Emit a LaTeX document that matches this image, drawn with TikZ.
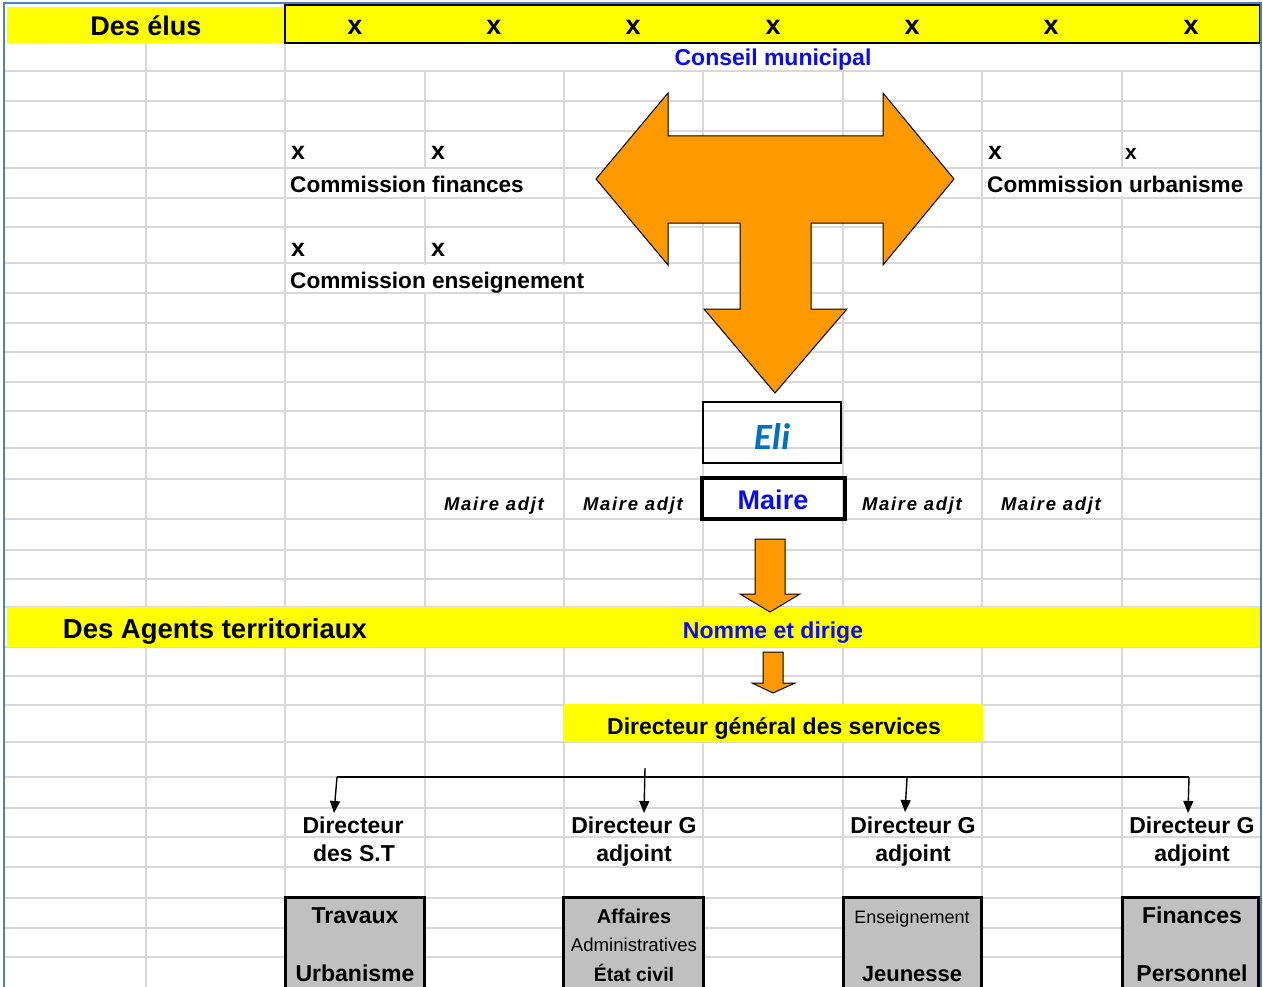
\documentclass[tikz,border=0pt]{standalone}
\usepackage{fontspec}
\setmainfont{Liberation Sans}
\newfontfamily\calfont{Carlito}
\newfontfamily\spacedfont[LetterSpace=9]{Liberation Sans}
\usetikzlibrary{arrows.meta}
\definecolor{gridgray}{RGB}{216,216,216}
\definecolor{hdryellow}{RGB}{255,255,0}
\definecolor{orangefill}{RGB}{255,153,0}
\definecolor{frameblue}{RGB}{79,129,189}
\definecolor{textblue}{RGB}{10,10,245}
\definecolor{eliblue}{RGB}{0,112,192}
\definecolor{boxgray}{RGB}{192,192,192}
\newcommand{\fsz}[1]{\fontsize{#1}{#1}\selectfont}
\tikzset{
  gridline/.style={draw=gridgray, line width=1.6pt},
  lbl/.style={inner sep=0pt, anchor=base, font=\bfseries\fsz{23}},
  lblw/.style={lbl, anchor=base west, font=\bfseries\fsz{22.6}},
  bluelbl/.style={lbl, text=textblue},
  bigx/.style={lbl, font=\bfseries\fsz{27}},
  adjt/.style={inner sep=0pt, anchor=base, font=\spacedfont\bfseries\itshape\fsz{18.5}},
  graybox/.style={draw=black, fill=boxgray, line width=3pt},
  orangearrow/.style={draw=black, fill=orangefill, line width=1pt, line join=miter},
  conn/.style={draw=black, line width=1.4pt, -{Triangle[length=12pt,width=10pt]}},
}
\begin{document}
\begin{tikzpicture}[x=1pt,y=-1pt]
\useasboundingbox (0,0) rectangle (1263,987);
\clip (0,0) rectangle (1263,987);
\fill[white] (0,0) rectangle (1263,987);
% grid
\foreach \gx in {146,285,425,564,703,843,982,1122} {
  \draw[gridline] (\gx,43) -- (\gx,987);
}
\foreach \gy in {71,101,131,168,198,227,263,293,323,352,382,411,448,479,519,550,579,607,647,676,705,742,777,808,837,867,898,928,957} {
  \draw[gridline] (4,\gy) -- (1261,\gy);
}
% merged / overflow cells hide grid lines
\fill[white] (286.5,44) rectangle (1260,70);
\fill[white] (422,169.5) rectangle (428,196.5);
\fill[white] (1119,169.5) rectangle (1125,196.5);
\fill[white] (422,264.5) rectangle (428,291.5);
\fill[white] (561,264.5) rectangle (567,291.5);
% yellow bands
\fill[hdryellow] (7,7) rectangle (285,43);
\draw[fill=hdryellow, line width=2.5pt] (285,5) rectangle (1260,43);
\fill[hdryellow] (7,607) rectangle (1261,647);
\fill[hdryellow, rounded corners=3pt] (563,704) rectangle (983,742);
% frame
\draw[frameblue, line width=2pt] (4,988) -- (4,3) -- (1261,3) -- (1261,988);
% header texts
\node[lbl, font=\bfseries\fsz{27}] (deselus) at (146,36) {Des élus};
\foreach \hx [count=\i] in {355,494,633,773,912,1051,1191} {
  \node[bigx] (hx\i) at (\hx,35) {x};
}
\node[bluelbl] (conseil) at (773,66) {Conseil municipal};
% commissions
\node[bigx, font=\bfseries\fsz{25}] (xf1) at (298,160) {x};
\node[bigx, font=\bfseries\fsz{25}] (xf2) at (438,160) {x};
\node[lblw] (cfin) at (290,193) {Commission finances};
\node[bigx, font=\bfseries\fsz{25}] (xu1) at (995,160) {x};
\node[lbl, font=\bfseries\fsz{21}] (xu2) at (1131,160) {x};
\node[lblw] (curb) at (987,193) {Commission urbanisme};
\node[bigx, font=\bfseries\fsz{25}] (xe1) at (298,256) {x};
\node[bigx, font=\bfseries\fsz{25}] (xe2) at (438,256) {x};
\node[lblw] (cens) at (290,288) {Commission enseignement};
% T arrow
\draw[orangearrow] (596,179) -- (668,93) -- (668,136) -- (883,136) -- (883,93) -- (954,179)
  -- (883,265) -- (883,223) -- (811,223) -- (811,309) -- (847,309) -- (775,393)
  -- (704,309) -- (740,309) -- (740,223) -- (668,223) -- (668,265) -- cycle;
% Eli and Maire
\draw[black, line width=1.5pt] (703,402) rectangle (841,463);
\node[inner sep=0pt, anchor=base, text=eliblue, font=\calfont\bfseries\itshape\fsz{37}] (eli) at (772,449) {Eli};
\draw[black, line width=4pt] (702,478) rectangle (845,519);
\node[bluelbl, font=\bfseries\fsz{27}] (maire) at (773,509) {Maire};
\node[adjt] (adj1) at (494,510) {Maire adjt};
\node[adjt] (adj2) at (633,510) {Maire adjt};
\node[adjt] (adj3) at (912,510) {Maire adjt};
\node[adjt] (adj4) at (1051,510) {Maire adjt};
% orange down arrows
\draw[orangearrow] (755,539) -- (785,539) -- (785,594) -- (800,594) -- (770,612) -- (740,594) -- (755,594) -- cycle;
\draw[orangearrow] (763,652) -- (783,652) -- (783,683) -- (795,683) -- (773,693) -- (752,683) -- (763,683) -- cycle;
% agents
\node[lbl, font=\bfseries\fsz{27.5}] (agents) at (215,638) {Des Agents territoriaux};
\node[bluelbl] (nomme) at (773,638) {Nomme et dirige};
\node[lbl] (dgs) at (774,734) {Directeur général des services};
% directors
\node[lbl] (d1a) at (353,833) {Directeur};
\node[lbl] (d1b) at (354,861) {des S.T};
\node[lbl] (d2a) at (634,833) {Directeur G};
\node[lbl] (d2b) at (634,861) {adjoint};
\node[lbl] (d3a) at (913,833) {Directeur G};
\node[lbl] (d3b) at (913,861) {adjoint};
\node[lbl] (d4a) at (1192,833) {Directeur G};
\node[lbl] (d4b) at (1192,861) {adjoint};
% connectors
\coordinate (busl) at (337,777);
\coordinate (busr) at (1189,777);
\coordinate (s2) at (645,768);
\coordinate (s3) at (907,778);
\coordinate (t1) at (334,813);
\coordinate (t2) at (644,813);
\coordinate (t3) at (905,812);
\coordinate (t4) at (1188,813);
\draw[black, line width=1.4pt] (busl) -- (busr);
\draw[conn] (busl) -- (t1);
\draw[conn] (s2) -- (t2);
\draw[conn] (s3) -- (t3);
\draw[conn] (busr) -- (t4);
% gray boxes
\draw[graybox] (285,897) rectangle (424,995);
\draw[graybox] (563,897) rectangle (703,995);
\draw[graybox] (843,897) rectangle (981,995);
\draw[graybox] (1122,897) rectangle (1258,995);
\node[lbl] (trav) at (355,923) {Travaux};
\node[lbl] (urba) at (355,981) {Urbanisme};
\node[lbl, font=\bfseries\fsz{20}] (aff) at (634,923) {Affaires};
\node[lbl, font=\fsz{18.6}] (adm) at (634,951) {Administratives};
\node[lbl, font=\bfseries\fsz{19.5}] (etat) at (634,981) {État civil};
\node[lbl, font=\fsz{18}] (ens) at (912,923) {Enseignement};
\node[lbl, font=\bfseries\fsz{22}] (jeu) at (912,981) {Jeunesse};
\node[lbl] (fin) at (1192,923) {Finances};
\node[lbl] (pers) at (1192,981) {Personnel};
\end{tikzpicture}
\end{document}
